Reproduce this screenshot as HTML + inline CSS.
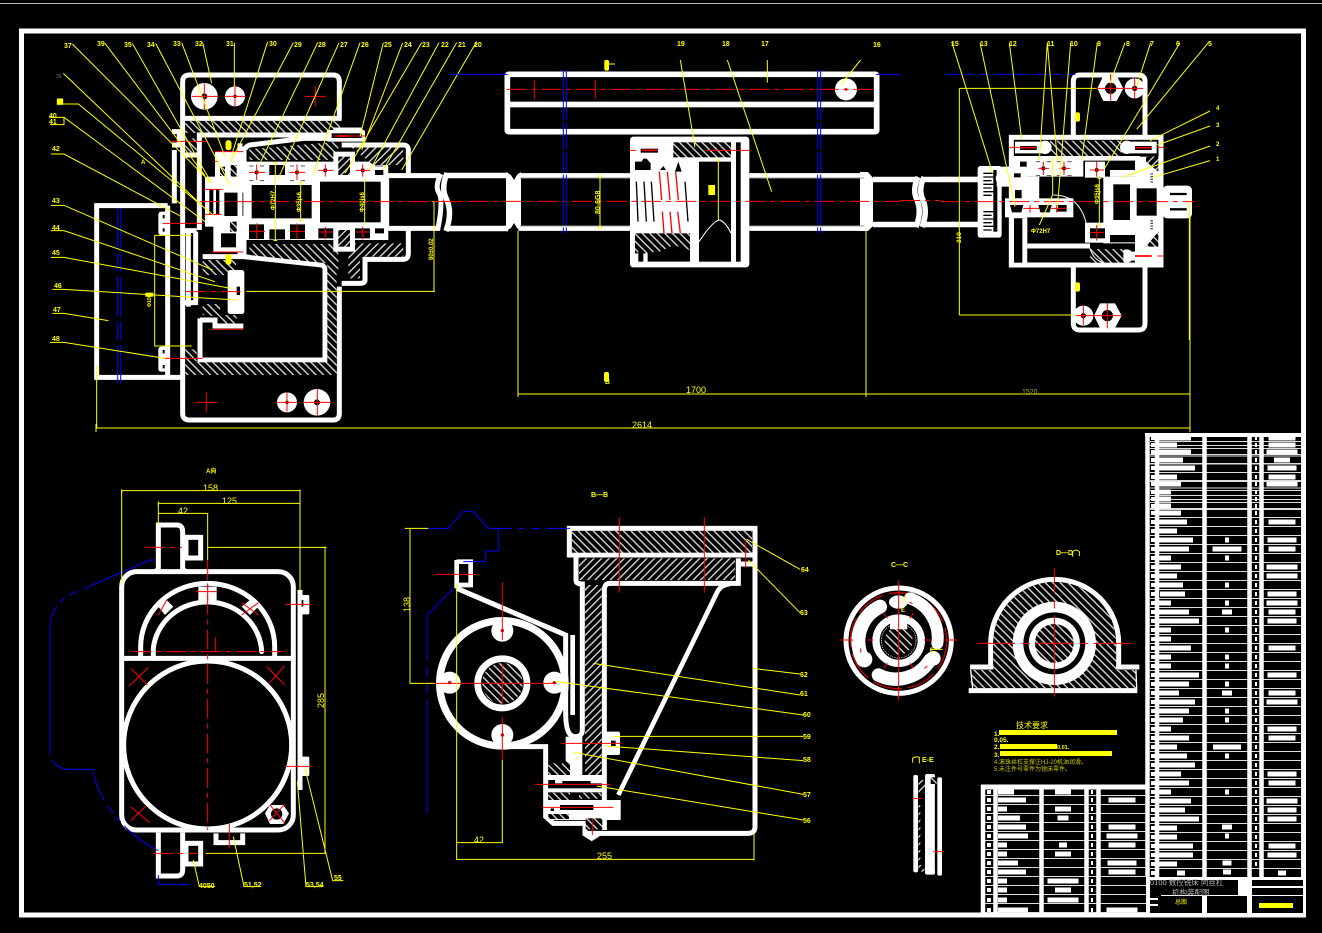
<!DOCTYPE html>
<html><head><meta charset="utf-8"><style>
html,body{margin:0;padding:0;background:#000}
svg{display:block}
.r{stroke:#f00;stroke-width:3;fill:none}
.d{stroke:#f00;stroke-width:3;fill:none;stroke-dasharray:60 14 16 14}
.y{stroke:#ff0;stroke-width:3;fill:none}
.b{stroke:#00f;stroke-width:3;fill:none}
.k{fill:#000;stroke:none}
.w{fill:#fff;stroke:none}
.h{fill:url(#h);stroke:none}
.i{fill:url(#i);stroke:none}
text{font-family:"Liberation Sans","Noto Sans CJK SC",sans-serif;fill:#ff0;font-size:7px;font-weight:bold}
</style></head><body>
<svg xmlns="http://www.w3.org/2000/svg" width="1322" height="933" viewBox="0 0 1322 933">
<defs>
<pattern id="h" width="16" height="16" patternUnits="userSpaceOnUse" patternTransform="rotate(45)"><rect width="16" height="16" fill="#000"/><rect width="16" height="4" fill="#ddd"/></pattern>
<pattern id="i" width="16" height="16" patternUnits="userSpaceOnUse" patternTransform="rotate(-45)"><rect width="16" height="16" fill="#000"/><rect width="16" height="4" fill="#ddd"/></pattern>
<pattern id="tr" x="0" y="527" width="10" height="9" patternUnits="userSpaceOnUse"><rect y="8" width="10" height="1" fill="#ddd"/></pattern>
<pattern id="tl" x="0" y="787" width="10" height="9" patternUnits="userSpaceOnUse"><rect y="8" width="10" height="1" fill="#ddd"/></pattern>
</defs>
<rect width="1322" height="933" fill="#000"/>
<rect x="0" y="3" width="1322" height="1" fill="#bbb"/>
<rect x="21.5" y="31" width="1282" height="884" fill="none" stroke="#fff" stroke-width="5"/>

<!-- LEFT ASSEMBLY -->
<g transform="translate(40,30) scale(.33333)" fill="none" stroke="#fff" stroke-width="15">
<path d="M383 527H170V1042H430M383 527V1042"/>
<path d="M428 1042V270V155Q428 135 448 135H880Q898 135 898 155V265M428 265H905"/>
<path d="M428 1042V1150Q428 1170 448 1170H880Q898 1170 898 1150V770"/>
<circle class="w" cx="493" cy="199" r="40"/><circle class="w" cx="585" cy="199" r="30"/>
<circle class="k" cx="493" cy="199" r="9"/><circle class="k" cx="585" cy="199" r="5"/>
<circle class="w" cx="741" cy="1117" r="30"/><circle class="w" cx="831" cy="1117" r="40"/>
<circle class="k" cx="741" cy="1117" r="5"/><circle class="k" cx="831" cy="1117" r="9"/>
<rect class="h" x="436" y="273" width="464" height="36"/>
<rect class="h" x="436" y="325" width="34" height="42"/>
<path d="M403 520V360M396 305H418V345H396M430 375H478M478 600V315H860"/>
<rect class="w" x="355" y="545" width="32" height="70" rx="8"/><rect class="w" x="355" y="950" width="32" height="75" rx="8"/>
<path class="k" d="M368 555h6v10h-6zM368 595h6v10h-6zM368 960h6v10h-6zM368 1005h6v10h-6z"/>
<path d="M467 605V825M445 600V830M430 602H470M430 818H470"/>
<!-- bearing housing -->
<path d="M615 360Q615 350 630 345L790 325H960V300H880M612 350V680L845 705Q855 708 855 720V990H480V865"/>
<path class="w" d="M612 395H1045V630H612Z"/>
<path class="k" d="M688 405h47v30h-47zM627 583h45v44h-45zM688 598h47v30h-47zM750 583h45v44h-45zM835 595h45v30h-45zM945 595h45v30h-45zM1005 595h27v15h-27zM1005 420h25v15h-25z"/>
<circle class="k" cx="650" cy="427" r="6"/><circle class="k" cx="771" cy="427" r="6"/><circle class="k" cx="856" cy="421" r="6"/><circle class="k" cx="968" cy="421" r="6"/>
<path d="M628 408H640M660 408H672M628 452H640M660 452H672M750 408H762M782 408H795M750 452H762M782 452H795M1005 408H1030" stroke="#555" stroke-width="3"/>
<rect class="k" x="635" y="465" width="180" height="100"/><rect class="k" x="840" y="455" width="182" height="122"/>
<path class="h" d="M628 390V358L895 335V390Z"/>
<path class="h" d="M628 642H895V730L862 700L628 675Z"/>
<rect class="h" x="862" y="700" width="28" height="335"/><rect class="h" x="436" y="997" width="454" height="38"/><rect class="h" x="436" y="958" width="34" height="60"/>
<path class="i" d="M925 345H1090V405H1000Z"/><path class="i" d="M925 640H1090V680H960V745H925Z"/>
<rect class="w" x="880" y="365" width="65" height="80"/><rect class="w" x="880" y="590" width="65" height="75"/>
<rect class="i" x="895" y="380" width="35" height="55"/><rect class="i" x="895" y="600" width="35" height="50"/>
<path d="M905 345H1090Q1105 345 1105 360V430M1105 600V670Q1105 688 1090 688H975V750Q975 760 960 760H905"/>
<rect class="w" x="860" y="300" width="115" height="35" rx="6"/>
<rect class="k" x="875" y="310" width="90" height="14"/>
<!-- shaft -->
<path d="M1040 437H1200M1040 595H1200M1040 437V595M1203 432Q1183 470 1198 490Q1210 515 1193 600"/>
<!-- gear stack -->
<rect class="w" x="525" y="365" width="85" height="80"/>
<rect class="h" x="540" y="410" width="15" height="28"/><rect class="h" x="572" y="405" width="18" height="35"/>
<rect class="w" x="495" y="440" width="125" height="150"/>
<path class="k" d="M508 478h12v75h-12zM528 478h10v75h-10zM553 488h57v70h-57z"/>
<rect class="w" x="520" y="575" width="92" height="90"/><rect class="k" x="543" y="610" width="45" height="42"/>
<rect class="h" x="570" y="575" width="20" height="30"/>
<rect class="h" x="488" y="690" width="100" height="45"/>
<rect class="w" x="563" y="720" width="50" height="132" rx="8"/><rect class="k" x="590" y="770" width="10" height="25"/>
<path d="M488 680H610"/>
<path class="h" d="M488 822H540V855H590V880H540V860L488 855Z"/>
<path d="M480 870H525V888H610"/>
<path d="M600 340V680"/>
<!-- centerlines -->
<g>
<path class="d" d="M480 515H1260"/><path class="d" d="M438 785H620"/>
<path class="r" d="M455 199H535M493 160V238M553 199H617M585 165V230M795 199H858M826 168V230M468 1117H530M499 1087V1148M712 1117H772M741 1087V1145M792 1117H872M832 1076V1156"/>
<path class="r" d="M627 427H675M650 403V450M748 427H795M771 403V450M835 421H880M856 403V440M948 421H990M968 403V440M627 604H675M650 580V627M750 604H795M771 580V627M835 606H880M856 590V628M946 606H990M968 590V628"/>
<path class="r" d="M392 334H500M368 580H490M370 985H488M525 365H610M520 395H535M492 478H548M495 553H545M516 666H610M516 898H610M880 318H975"/>
<path class="r" d="M895 318H920" style="stroke-width:6"/>
</g>
<!-- blue -->
<path class="b" d="M233 535V1060M242 535V1060" stroke-dasharray="120 15 55 15"/>
<!-- yellow -->
<g class="y">
<path d="M97 42L515 460M195 40L495 437M277 40L515 460M347 40L570 465M425 38L555 380M488 38L515 160M583 38V170M683 35L575 375M760 38L570 398M833 38L660 400M897 38L715 445M960 38L820 430M1030 38L960 320M1088 38L965 360M1145 38L915 430M1197 38L990 420M1250 38L1030 420M1310 35L1085 420"/>
<path d="M70 130L500 540M60 222H115L520 555M28 262H72V284H30M72 262L495 575M33 372H72L425 560M33 526H72L518 720M33 602H72L525 755M33 682H72L572 775M37 778H72L590 810M37 850H72L205 872M30 937H72L375 985"/>
<path d="M706 398V632M700 398H712M700 632H712M782 457V572M776 457H788M776 572H788M974 445V585M344 616V948H455M344 616H455M620 784H1185M1182 515V784M1176 515H1188M170 1008V1195"/>
<rect x="52" y="207" width="16" height="16" fill="#ff0"/><rect x="316" y="788" width="24" height="12" fill="#ff0" stroke="none"/>
<rect x="558" y="332" width="15" height="27" rx="7" fill="#ff0"/><rect x="558" y="673" width="15" height="30" rx="7" fill="#ff0"/>
</g>
</g>

<!-- SHAFT PIECES (real coordinates) -->
<g fill="none" stroke="#fff" stroke-width="5.5">
<path d="M446 175.500H508M446 228.500H508M447 173Q441 188 446 198Q453 212 446 231"/>
<path d="M873 179.500H918M873 224.500H918M918 177Q912 190 917 200Q922 212 916 227"/>
<path d="M922 179.500H980M922 224.500H980M924 177Q918 190 923 200Q928 212 922 227"/>
</g>
<path d="M506 172L511 175L514 180L517 175L521 172V231L517 228L514 223L511 228L506 231Z" fill="#fff"/>
<path d="M860 172H868L873 178V226L868 231H860Z" fill="#fff"/>
<path d="M900 200.500H940" stroke="#f00" stroke-width="1" stroke-dasharray="20 5 5 5"/>

<!-- MIDDLE SHAFT AND NUT -->
<g transform="translate(500,60) scale(.33333)" fill="none" stroke="#fff" stroke-width="15">
<rect x="22" y="43" width="1108" height="172" rx="4" stroke-width="17"/>
<rect class="w" x="22" y="125" width="1108" height="17"/>
<circle class="w" cx="1038" cy="88" r="33"/><circle cx="1038" cy="88" r="4" fill="#f00" stroke="none"/>
<path d="M55 347H390M55 505H390M748 347H1095M748 505H1095"/>
<path d="M60 354H390M60 498H390M748 354H1092M748 498H1092" stroke="#999" stroke-width="3"/>
<rect class="w" x="390" y="230" width="358" height="392" rx="10"/>
<rect class="h" x="520" y="247" width="173" height="45"/>
<rect class="k" x="708" y="247" width="14" height="358"/>
<rect class="k" x="597" y="305" width="96" height="300"/>
<path class="k" d="M405 305H425L430 296H440L452 310V330H405ZM480 330L490 318L498 330ZM525 335L535 305L545 335Z"/>
<path class="k" d="M407 365L412 485H416L411 365ZM430 365L437 485H441L434 365ZM452 365L460 485H464L456 365ZM553 365L562 485H566L557 365Z"/>
<path class="r" d="M478 335L485 420M502 335L510 420M527 335L535 420M487 455L492 520M510 455L516 520M533 455L541 520" style="stroke-width:4"/>
<rect class="h" x="405" y="520" width="165" height="60"/>
<path class="k" d="M443 578L480 575L520 555L570 570V605H443Z"/><rect class="k" x="415" y="570" width="15" height="35"/>
<rect class="w" x="570" y="330" width="27" height="235"/>
<path d="M597 545Q640 480 660 480Q680 490 693 520" stroke-width="3"/>
<rect class="w" x="408" y="250" width="110" height="38" rx="12"/><rect class="k" x="422" y="266" width="52" height="12"/>
<path class="r" d="M425 271H473" style="stroke-width:5"/>
<path class="r" d="M390 271H408M618 271H748"/>
<path class="d" d="M-200 424H1200"/><path class="d" d="M20 88H1130"/>
<path class="r" d="M103 60V117M286 60V117"/>
<path class="b" d="M190 30V520M199 30V520M953 30V520M962 30V520" stroke-dasharray="150 8 80 8 60 8"/>
<path class="b" d="M-150 43H23M1128 43H1200"/>
<path class="y" d="M300 348V505M294 348H306M294 505H306M655 300V480M649 300H661"/>
<rect x="625" y="375" width="20" height="30" fill="#ff0" stroke="none"/>
<rect x="313" y="0" width="14" height="32" rx="5" fill="#ff0" stroke="none"/>
<path class="y" d="M325 12H345M541 0L585 262M682 0L815 395M802 0V68M1082 0L1024 72"/>
</g>
<rect x="604" y="372" width="5" height="10" rx="2" fill="#ff0"/>

<!-- OVERALL DIMENSIONS -->
<path d="M518 231V394M866 231V394M1190 200V428M518 394H1190M97 428H1190M96 424V432M1190 424V432M518 390V397M866 390V397M1190 390V397" fill="none" stroke="#ff0" stroke-width="1"/>

<!-- RIGHT ASSEMBLY -->
<g transform="translate(940,30) scale(.33333)" fill="none" stroke="#fff" stroke-width="15">
<path d="M400 315V155Q400 135 420 135H595Q615 135 615 155V315"/>
<path d="M400 712V880Q400 900 420 900H595Q615 900 615 880V712"/>
<polygon class="w" points="472,175 490,137 530,137 550,175 530,213 490,213"/><circle class="k" cx="512" cy="175" r="17"/>
<circle class="w" cx="584" cy="175" r="30"/><circle class="k" cx="584" cy="175" r="8"/>
<polygon class="w" points="462,857 480,820 525,820 545,857 525,894 480,894"/><circle class="k" cx="502" cy="857" r="17"/>
<circle class="w" cx="430" cy="857" r="30"/><circle class="k" cx="430" cy="857" r="8"/>
<rect x="214" y="322" width="449" height="383"/>
<rect class="h" x="330" y="332" width="215" height="46"/>
<path class="w" d="M215 378H600V440H215Z"/>
<path class="k" d="M430 392h80v48h-80zM510 392h75v28h-75zM240 395h20v20h-20z"/>
<rect class="w" x="435" y="395" width="60" height="48"/>
<rect class="w" x="207" y="440" width="91" height="125"/>
<path class="k" d="M298 455H505V580H440V640H262V555H298Z"/>
<rect class="w" x="207" y="565" width="55" height="147"/>
<rect class="k" x="222" y="565" width="25" height="133"/>
<path class="k" d="M187 480h18v25h-18zM225 480h20v25h-20z"/>
<rect class="w" x="195" y="505" width="205" height="57"/>
<path class="k" d="M210 525h40l-6 22h-28zM295 525h40l-6 22h-28zM350 525h30v20h-30z"/>
<path d="M340 495Q420 495 440 585" stroke-width="3"/>
<circle class="w" cx="315" cy="352" r="20"/><circle class="w" cx="560" cy="352" r="20"/><circle class="w" cx="560" cy="678" r="20"/>
<path class="w" d="M225 335H315V370H225ZM560 335H650V370H560ZM560 665H650V692H560Z"/>
<path class="k" d="M240 348h50v12h-50zM585 348h50v12h-50zM585 672h50v12h-50z"/>
<path d="M0 448H120M0 583H120"/>
<rect class="w" x="113" y="408" width="72" height="215" rx="8"/>
<path d="M130 430H160M130 441H160M130 452H155M130 463H160M130 474H155M130 485H160M130 496H155M130 545H160M130 556H155M130 567H160M130 578H155M130 589H160M130 600H155" stroke="#000" stroke-width="4"/>
<rect class="k" x="160" y="420" width="12" height="185"/>
<rect class="w" x="170" y="410" width="90" height="60"/><circle class="w" cx="185" cy="445" r="18"/>
<rect class="k" x="222" y="430" width="20" height="12"/>
<path class="w" d="M490 440H590V640H490Z"/><rect class="k" x="520" y="463" width="50" height="107"/>
<rect class="k" x="510" y="615" width="80" height="22"/>
<rect class="w" x="435" y="578" width="75" height="60"/><rect class="k" x="450" y="595" width="45" height="30"/>
<rect class="k" x="262" y="657" width="190" height="38"/>
<rect class="h" x="450" y="657" width="100" height="41"/>
<path d="M262 648H450"/>
<path d="M450 655Q460 690 490 698" stroke-width="3"/>
<rect class="w" x="585" y="380" width="80" height="325"/>
<rect class="k" x="590" y="475" width="60" height="82"/>
<path class="i" d="M618 380H655V425L618 395Z"/><path class="h" d="M618 650L655 605V650Z"/>
<path d="M635 430V460M635 570V600" stroke="#555" stroke-width="8" stroke-dasharray="4 4"/>
<rect class="w" x="668" y="467" width="88" height="98" rx="14"/>
<path d="M690 492H740M690 538H740" stroke="#000" stroke-width="7"/>
<circle class="k" cx="310" cy="415" r="6"/><circle class="k" cx="372" cy="415" r="6"/><circle class="k" cx="470" cy="420" r="6"/>
<path d="M288 395H300M320 395H333M288 437H300M320 437H333M350 395H362M382 395H395M350 437H362M382 437H395" stroke="#555" stroke-width="3"/>
<path class="d" d="M0 515H765"/>
<path class="r" d="M472 175H552M512 132V215M555 175H610M584 145V205M408 857H460M430 828V885M462 857H545M502 820V895"/>
<path class="r" d="M295 415H327M310 395V435M358 415H390M372 395V435M450 420H492M470 395V440M450 608H492M470 585V632M250 535H298M333 535H380M270 525V548M350 525V548M208 352H238M652 352H670M652 678H670"/>
<path class="r" d="M240 353H288M585 353H635M585 678H635" style="stroke-width:5"/>
<path class="b" d="M18 133H423" stroke-dasharray="42 18 24 18 24 18 100 18"/>
<g class="y">
<path d="M35 35L158 430M120 38L225 530M208 38L245 328M322 38L298 392M322 38L352 392M392 38L352 535M472 38L425 392M555 38L510 160M632 38L590 168M720 38L492 418M805 38L590 298M810 243L630 332M810 288L652 345M810 348L548 442M810 392L640 442M338 382V495L298 585M478 445V585M472 445H484M472 585H484M58 175V855M58 175H470M58 855H405M748 515V930"/>
<rect x="405" y="247" width="15" height="28" rx="6" fill="#ff0" stroke="none"/><rect x="405" y="757" width="15" height="28" rx="6" fill="#ff0" stroke="none"/>
</g>
</g>

<!-- A VIEW -->
<g transform="translate(40,460) scale(.33333)" fill="none" stroke="#fff" stroke-width="15">
<rect x="245" y="335" width="515" height="775" rx="45"/>
<path d="M245 595H760"/>
<circle cx="503" cy="855" r="252"/>
<path d="M302 595V560A201 190 0 0 1 704 560V595"/>
<path d="M340 595V565A163 155 0 0 1 665 575" stroke-linecap="round"/>
<path d="M355 328V195H410Q428 195 428 215V328M355 1118V1248H410Q428 1248 428 1230V1118"/>
<path d="M355 328L345 335M428 328L438 335"/>
<rect x="438" y="232" width="44" height="62"/><rect x="438" y="1150" width="44" height="62"/>
<path d="M780 390V990"/>
<rect class="w" x="780" y="405" width="28" height="58" rx="4"/><rect class="k" x="785" y="420" width="5" height="20"/>
<rect class="w" x="780" y="890" width="28" height="58" rx="4"/>
<path class="w" d="M475 380h55v40h-55zM355 440l20-25 25 25-25 25zM605 440l25-20 25 20-25 25z"/>
<polygon class="w" points="675,1060 690,1035 730,1035 747,1060 730,1092 690,1092"/><circle class="k" cx="710" cy="1062" r="17"/>
<path d="M528 1120V1148H608V1120"/>
<path class="k" d="M545 1128h16v12h-16zM578 1128h14v12h-14z"/>
<path class="d" d="M503 300V1110M275 575H730M315 262H425M340 1180H475"/>
<path class="r" d="M527 532V575M468 395H530M503 370V420M380 420L355 465M605 428L655 465M655 428L605 465M735 433H812M735 919H812M568 1092V1165M272 625L322 675M325 622L268 678M680 620L735 675M733 618L688 670M272 1040L328 1088M318 1038L272 1082M690 1035L735 1090M735 1032L688 1082"/>
<path class="b" d="M345 300H330L100 400Q30 430 30 510V870Q30 928 95 928H158Q170 1010 248 1092Q290 1140 355 1172M355 1245V1273H445" stroke-dasharray="230 20 30 15 20 15 450 15"/>
<g class="y">
<path d="M245 375V92H780V395M355 195V130H780M355 160H503V300M505 262H855V1180H497M510 1180H855M460 1200L478 1280H525M580 1130L612 1280H660M772 965L798 1280H850M795 925L878 1262H910"/>
<path d="M245 88V100M780 88V100M355 124V136M780 124V136M848 262H860"/>
</g>
</g>

<!-- B-B VIEW -->
<g transform="translate(400,480) scale(.33333)" fill="none" stroke="#fff" stroke-width="15">
<rect x="508" y="145" width="557" height="80"/>
<rect class="h" x="516" y="153" width="540" height="65"/>
<rect class="i" x="537" y="235" width="468" height="65"/>
<path d="M528 230V300Q528 312 547 312V750Q547 770 525 770Q497 770 497 700V465L170 325"/>
<path d="M613 1050V330Q613 310 630 310H1015V235M1015 252H1065"/>
<path d="M1065 145V1040Q1065 1060 1045 1060H560"/>
<path d="M655 945L950 340Q960 315 990 312" stroke-width="14"/>
<rect class="i" x="555" y="315" width="50" height="575"/>
<path d="M518 465V705" stroke-width="14"/>
<circle cx="307" cy="610" r="188" stroke-width="22"/>
<circle cx="307" cy="452" r="33" class="w"/><circle cx="149" cy="608" r="33" class="w"/><circle cx="463" cy="608" r="33" class="w"/><circle cx="307" cy="765" r="33" class="w"/>
<circle cx="307" cy="610" r="74" stroke-width="20"/><circle class="h" cx="307" cy="610" r="61"/>
<path d="M170 240V325M170 245H212V315H172" stroke-width="14"/><rect class="k" x="187" y="258" width="17" height="48"/>
<path d="M307 800H437V1010L460 1030H555V1062L575 1075L595 1062"/>
<rect class="w" x="497" y="770" width="50" height="120"/>
<rect class="w" x="608" y="755" width="52" height="70" rx="6"/><rect class="k" x="633" y="782" width="14" height="16"/>
<rect class="w" x="437" y="885" width="178" height="25"/>
<rect class="w" x="437" y="925" width="178" height="12"/>
<rect class="w" x="437" y="960" width="225" height="60"/>
<path class="k" d="M445 900h20v20h-20zM487 903h85v18h-85zM452 985h10v8h-10zM480 975h100v15h-100z"/>
<rect class="h" x="445" y="938" width="65" height="22"/><rect class="h" x="537" y="938" width="68" height="18"/><rect class="h" x="445" y="1002" width="62" height="15"/><rect class="h" x="557" y="1015" width="50" height="33"/>
<path class="h" d="M445 855L460 848L478 858L495 842L510 850V885H445Z"/>
<path class="r" d="M108 283H228M658 112V338M913 112V338M1037 180V262M307 307V480M307 712V840M85 610H470M230 610H415M307 550V670M485 790H665M405 913H632M428 982H640M577 1015V1065"/>
<circle cx="307" cy="452" r="5" fill="#c00" stroke="none"/><circle cx="149" cy="608" r="5" fill="#c00" stroke="none"/><circle cx="463" cy="608" r="5" fill="#c00" stroke="none"/><circle cx="307" cy="765" r="5" fill="#c00" stroke="none"/>
<path class="b" d="M85 145H145L190 95H220L265 145H335M355 145H375M395 145H420M440 145H510M295 145V213H257V245H190M160 325L82 405V540M82 560V590M82 610V640M82 660V1000"/>
<g class="y">
<path d="M30 145H85M30 145V610H105M14 145H36M170 312V1140M170 1088H307V840M170 1138H1062M1062 1060V1142M1040 178L1200 268M1045 240L1200 398M1058 565L1200 582M580 550L1200 645M465 604L1210 705M640 769H1210M618 798L1210 842M522 817L1210 943M590 918L1210 1020"/>
</g>
</g>

<!-- C-C / D-D / E-E -->
<g transform="translate(830,540) scale(.33333)" fill="none" stroke="#fff" stroke-width="15">
<circle cx="206" cy="302" r="158"/>
<circle cx="206" cy="302" r="144" stroke="#c00" stroke-width="4" stroke-dasharray="90 18"/>
<path d="M150 200A115 115 0 0 0 100 360" stroke-width="42" stroke-linecap="round"/>
<path d="M240 175A125 125 0 0 1 322 310" stroke-width="36" stroke-linecap="round"/>
<path d="M145 405A120 120 0 0 0 300 360" stroke-width="40" stroke-linecap="round"/>
<ellipse class="w" cx="205" cy="186" rx="28" ry="20"/><circle class="w" cx="103" cy="358" r="24"/><circle class="w" cx="310" cy="355" r="22"/>
<circle cx="206" cy="302" r="68" stroke-width="22"/>
<circle class="h" cx="206" cy="302" r="42"/>
<circle cx="206" cy="302" r="52" stroke-width="2" stroke-dasharray="4 3"/>
<rect class="w" x="180" y="240" width="52" height="28"/>
<path class="r" d="M206 120V482M30 300H70M112 300H130M282 300H302M345 300H382M206 250V270M162 220L172 235M250 220L240 235M162 385L172 370M250 385L240 370"/>
<path class="r" d="M92 325V338M238 186L248 192M283 385L292 378" stroke-width="5"/>
<path class="y" d="M228 165L220 190M300 328H338"/>
<!-- D-D -->
<path d="M482 382V310A191 191 0 0 1 866 310V382"/>
<path class="h" d="M490 390V310A183 183 0 0 1 858 310V390H918V445H422V390Z"/>
<path d="M420 381H490M858 381H928M416 452H922"/>
<path d="M422 390L428 445M918 390L920 445" stroke-width="4"/>
<circle class="w" cx="673" cy="310" r="125"/><circle class="k" cx="673" cy="310" r="93"/><circle class="w" cx="673" cy="310" r="77"/><circle class="h" cx="673" cy="310" r="58"/>
<circle cx="673" cy="310" r="108" stroke="#e0e0e0" stroke-width="2" stroke-dasharray="3 4"/>
<path class="r" d="M673 85V160M673 180V205M673 225V395M673 395V470M442 310H555M575 310H600M615 310H730M748 310H775M790 310H904"/>
<!-- E-E -->
<rect class="w" x="250" y="705" width="14" height="292" rx="5"/>
<rect class="w" x="285" y="702" width="30" height="302" rx="6"/>
<rect class="w" x="322" y="712" width="14" height="295" rx="5"/>
<rect class="i" x="265" y="720" width="20" height="38"/><rect class="i" x="265" y="795" width="6" height="175"/><rect class="i" x="265" y="975" width="18" height="20"/><rect class="h" x="302" y="712" width="18" height="20"/>
<path d="M316 740V990" stroke="#000" stroke-width="3"/>
<path class="r" d="M247 775H275M310 935H342"/>
<path d="M248 668V655Q255 648 268 652L268 670" stroke="#ff0" stroke-width="3"/>
<path d="M728 50V35Q738 25 748 35V48" stroke="#ff0" stroke-width="3"/>
</g>

<!-- RIGHT TABLE -->
<rect x="1150" y="437" width="151" height="441" fill="url(#tr)"/>
<path d="M1150 441.5H1301M1150 448.5H1301M1150 456H1301M1150 464H1301M1150 472.5H1301M1150 480.5H1301M1150 488H1301M1150 495.5H1301M1150 502.5H1301M1150 509.5H1301M1150 517.5H1301M1150 526.5H1301" stroke="#ddd" stroke-width="1"/>
<rect x="1150" y="527" width="151" height="1" fill="#000"/>
<path d="M1147.5 433V877M1157 433V880M1204.5 433V880M1249.5 433V880M1261.5 433V880M1303.5 433V916" stroke="#fff" stroke-width="4.5" fill="none"/>
<path d="M1145 435H1306" stroke="#fff" stroke-width="4"/>
<path stroke="#fff" stroke-width="5" fill="none" d="M1159 438h32M1159 445h18M1159 452h32M1159 460h24M1159 468h36M1159 477h18M1159 484h22M1159 492h12M1159 499h12M1159 506h12M1159 513h22M1159 522h28M1159 531h18M1159 540h34M1159 549h30M1159 558h12M1159 567h22M1159 576h18M1159 585h24M1160 594h25M1159 603h12M1159 612h30M1159 621h40M1159 630h12M1159 639h12M1159 648h32M1159 657h12M1159 666h12M1159 675h40M1159 684h30M1159 693h20M1159 702h36M1159 711h30M1159 720h24M1159 729h12M1159 738h30M1159 747h18M1159 756h28M1159 765h36M1159 774h22M1159 783h30M1159 792h12M1159 801h32M1159 810h26M1159 819h40M1159 828h18M1159 837h18M1159 846h34M1159 855h34M1159 864h18M1177 873h8"/>
<path stroke="#fff" stroke-width="5" fill="none" d="M1225 540h4M1212.500 549h29M1225 558h4M1225 585h4M1225 603h4M1222 612h10M1225 630h4M1225 657h4M1225 666h4M1225 684h4M1222 693h10M1225 711h4M1225 720h4M1213 747h28M1225 756h4M1225 792h4M1222 827h10M1225 836h4M1222.500 863h9M1223 872h8"/>
<path stroke="#fff" stroke-width="5" fill="none" d="M1268.500 438h27M1268.500 445h27M1266.500 452h31M1274 460h16M1267.500 468h29M1268.500 477h27M1266.500 484h31M1268.500 522h27M1267.500 540h29M1268.500 549h27M1266.500 567h31M1266.500 576h31M1267.500 594h29M1266.500 603h31M1268.500 612h27M1267.500 621h29M1268.500 648h27M1267.500 675h29M1268.500 693h27M1266.500 702h31M1267.500 729h29M1268.500 738h27M1267.500 774h29M1268.500 783h27M1266.500 801h31M1267.500 810h29M1267.500 819h29M1268.500 846h27M1267.500 855h29M1278 873h8"/>
<path stroke="#fff" stroke-width="4" fill="none" d="M1151 438h4M1151 445h4M1151 452h4M1151 460h4M1151 468h4M1151 477h4M1151 484h4M1151 492h4M1151 499h4M1151 506h4M1151 513h4M1151 522h4M1151 531h4M1151 540h4M1151 549h4M1151 558h4M1151 567h4M1151 576h4M1151 585h4M1151 594h4M1151 603h4M1151 612h4M1151 621h4M1151 630h4M1151 639h4M1151 648h4M1151 657h4M1151 666h4M1151 675h4M1151 684h4M1151 693h4M1151 702h4M1151 711h4M1151 720h4M1151 729h4M1151 738h4M1151 747h4M1151 756h4M1151 765h4M1151 774h4M1151 783h4M1151 792h4M1151 801h4M1151 810h4M1151 819h4M1151 828h4M1151 837h4M1151 846h4M1151 855h4M1151 864h4M1151 873h4"/>
<path stroke="#fff" stroke-width="4" fill="none" d="M1255 438h2M1255 445h2M1255 452h2M1255 460h2M1255 468h2M1255 477h2M1255 484h2M1255 492h2M1255 499h2M1255 506h2M1255 513h2M1255 522h2M1255 531h2M1255 540h2M1255 549h2M1255 558h2M1255 567h2M1255 576h2M1255 585h2M1255 594h2M1255 603h2M1255 612h2M1255 621h2M1255 630h2M1255 639h2M1255 648h2M1255 657h2M1255 666h2M1255 675h2M1255 684h2M1255 693h2M1255 702h2M1255 711h2M1255 720h2M1255 729h2M1255 738h2M1255 747h2M1255 756h2M1255 765h2M1255 774h2M1255 783h2M1255 792h2M1255 801h2M1255 810h2M1255 819h2M1255 828h2M1255 837h2M1255 846h2M1255 855h2M1255 864h2"/>

<!-- LOWER TABLE -->
<rect x="985" y="787" width="161" height="126" fill="url(#tl)"/>
<path d="M983 785V914M995.500 787V914M1041.500 787V914M1086.500 787V914M1098.500 787V914" stroke="#fff" stroke-width="4.500" fill="none"/>
<path d="M981 787H1146" stroke="#fff" stroke-width="5"/>
<path stroke="#fff" stroke-width="5" fill="none" d="M998 792h16M998 800h28M998 809h9M998 818h22M998 827h28M998 836h30M998 845h9M998 854h9M998 863h20M998 872h28M998 881h9M998 890h9M998 900h9M998 910h30"/>
<path stroke="#fff" stroke-width="5" fill="none" d="M1055 792h16M1055 809h16M1057.500 818h11M1059 845h8M1055 854h16M1047.500 881h31M1055 890h16M1047.500 900h31"/>
<path stroke="#fff" stroke-width="5" fill="none" d="M1108.500 800h27M1108.500 827h27M1106.500 836h31M1108.500 845h27M1107.500 863h29M1108.500 872h27M1106.500 910h31"/>
<path stroke="#fff" stroke-width="4" fill="none" d="M987 792h4M987 800h4M987 809h4M987 818h4M987 827h4M987 836h4M987 845h4M987 854h4M987 863h4M987 872h4M987 881h4M987 890h4M987 900h4M987 910h4M1091 792h2M1091 800h2M1091 809h2M1091 818h2M1091 827h2M1091 836h2M1091 845h2M1091 854h2M1091 863h2M1091 872h2M1091 881h2M1091 890h2M1091 900h2M1091 910h2"/>

<!-- TITLE BLOCK -->
<rect x="1146" y="877" width="157" height="37" fill="#fff"/>
<rect x="1150" y="880" width="88" height="15" fill="#000"/>
<rect x="1161" y="896" width="41" height="17" fill="#000"/><rect x="1207" y="896" width="40" height="17" fill="#000"/>
<rect x="1252" y="880" width="51" height="6" fill="#000"/><rect x="1252" y="888" width="51" height="7" fill="#000"/><rect x="1252" y="896" width="51" height="17" fill="#000"/>
<rect x="1259" y="903" width="34" height="5" fill="#ff0"/>
<rect x="1150" y="895" width="11" height="18" fill="#000"/>
<path d="M1150 899h8M1150 905h8" stroke="#fff" stroke-width="2"/>
<text x="1150" y="885" style="fill:#bbb;font-size:7.500px;font-weight:normal">0100 数控铣床 向丝杠</text>
<text x="1172" y="895" style="fill:#bbb;font-size:7.500px;font-weight:normal">机构装配图</text>
<text x="1175" y="904" style="fill:#b5b500;font-size:6px">总图</text>

<!-- LABELS -->
<g>
<text x="64" y="48">37</text><text x="97" y="46">39</text><text x="124" y="47">35</text><text x="147" y="47">34</text><text x="173" y="46">33</text><text x="195" y="46">32</text><text x="226" y="46">31</text><text x="269" y="46">30</text><text x="294" y="47">29</text><text x="318" y="47">28</text><text x="340" y="47">27</text><text x="361" y="47">26</text><text x="384" y="47">25</text><text x="404" y="47">24</text><text x="422" y="47">23</text><text x="441" y="47">22</text><text x="458" y="47">21</text><text x="474" y="47">20</text>
<text x="56" y="78" style="fill:#777;font-size:5px;font-weight:normal">36</text>
<text x="49" y="118">40</text><text x="49" y="124">41</text><text x="52" y="151">42</text><text x="52" y="203">43</text><text x="52" y="230">44</text><text x="52" y="255">45</text><text x="54" y="288">46</text><text x="53" y="312">47</text><text x="52" y="341">48</text>
<text x="141" y="164" style="font-size:6px">A</text>
<text x="604" y="66" style="font-size:7px">B</text><text x="605" y="384">B</text>
<text x="677" y="46">19</text><text x="722" y="46">18</text><text x="761" y="46">17</text><text x="873" y="47">16</text>
<text x="951" y="46">15</text><text x="980" y="46">13</text><text x="1009" y="46">12</text><text x="1047" y="46">11</text><text x="1070" y="46">10</text><text x="1097" y="46">9</text><text x="1126" y="46">8</text><text x="1150" y="46">7</text><text x="1176" y="46">6</text><text x="1208" y="46">5</text>
<text x="1216" y="110" style="font-size:6px">4</text><text x="1216" y="127" style="font-size:6px">3</text><text x="1216" y="146" style="font-size:6px">2</text><text x="1216" y="161" style="font-size:6px">1</text>
<text x="686" y="393" style="font-size:9px;font-weight:normal">1700</text><text x="1022" y="394" style="fill:#aa0;font-size:7px;font-weight:normal">1520</text><text x="632" y="428" style="font-size:9px;font-weight:normal">2614</text>
<text transform="translate(275,210) rotate(-90)" style="font-size:6px">Φ72H7</text><text transform="translate(301,212) rotate(-90)" style="font-size:6px">Φ35js6</text><text transform="translate(364,212) rotate(-90)" style="font-size:6px">Φ40js6</text>
<text transform="translate(433,260) rotate(-90)" style="font-size:6px">80±0.02</text><text transform="translate(151,307) rotate(-90)" style="font-size:5px">Φ100</text>
<text transform="translate(600,214) rotate(-90)" style="font-size:7px">80-6G8</text>
<text x="1031" y="233" style="font-size:6px">Φ72H7</text><text transform="translate(1099,204) rotate(-90)" style="font-size:6px">Φ35js6</text><text transform="translate(961,243) rotate(-90)" style="font-size:6.500px">210</text>
<text x="206" y="473" style="font-size:6px">A向</text>
<text x="203" y="491" style="font-size:9px;font-weight:normal">158</text><text x="222" y="504" style="font-size:9px;font-weight:normal">125</text><text x="178" y="514" style="font-size:9px;font-weight:normal">42</text>
<text transform="translate(324,708) rotate(-90)" style="font-size:9px;font-weight:normal">285</text>
<text x="199" y="888">4050</text><text x="244" y="887">51,52</text><text x="306" y="887">53,54</text><text x="334" y="880">55</text>
<text x="591" y="497" style="font-size:7px">B—B</text>
<text transform="translate(410,612) rotate(-90)" style="font-size:9px;font-weight:normal">138</text>
<text x="474" y="843" style="font-size:9px;font-weight:normal">42</text><text x="597" y="859" style="font-size:9px;font-weight:normal">255</text>
<text x="801" y="572">64</text><text x="800" y="615">63</text><text x="800" y="677">62</text><text x="800" y="696">61</text><text x="803" y="717">60</text><text x="803" y="739">59</text><text x="803" y="762">58</text><text x="803" y="797">57</text><text x="803" y="823">56</text>
<text x="891" y="567" style="font-size:7px">C—C</text><text x="1056" y="555" style="font-size:7px">D—D</text><text x="922" y="762" style="font-size:7px">E-E</text>
<text x="901" y="612" style="font-size:6px">E</text><text x="930" y="652" style="font-size:6px">E</text>
<text x="1016" y="728" style="font-size:8px;font-weight:normal">技术要求</text>
<rect x="999" y="730" width="118" height="5" fill="#ff0"/><rect x="1000" y="744" width="57" height="5" fill="#ff0"/><rect x="1000" y="751" width="112" height="5" fill="#ff0"/>
<text x="994" y="736" style="font-size:6.500px">1.</text><text x="994" y="742" style="font-size:6.500px">0.05.</text><text x="994" y="749" style="font-size:6.500px">2.</text><text x="1057" y="749" style="font-size:5.500px">0.01.</text><text x="994" y="757" style="font-size:6.500px">3.</text>
<text x="994" y="764" style="font-size:6px;fill:#cc0;font-weight:normal">4.滚珠丝杠支撑注HJ-20机油润滑。</text>
<text x="994" y="771" style="font-size:6px;fill:#cc0;font-weight:normal">5.未注件号零件为镗床零件。</text>
</g>
</svg>
</body></html>
